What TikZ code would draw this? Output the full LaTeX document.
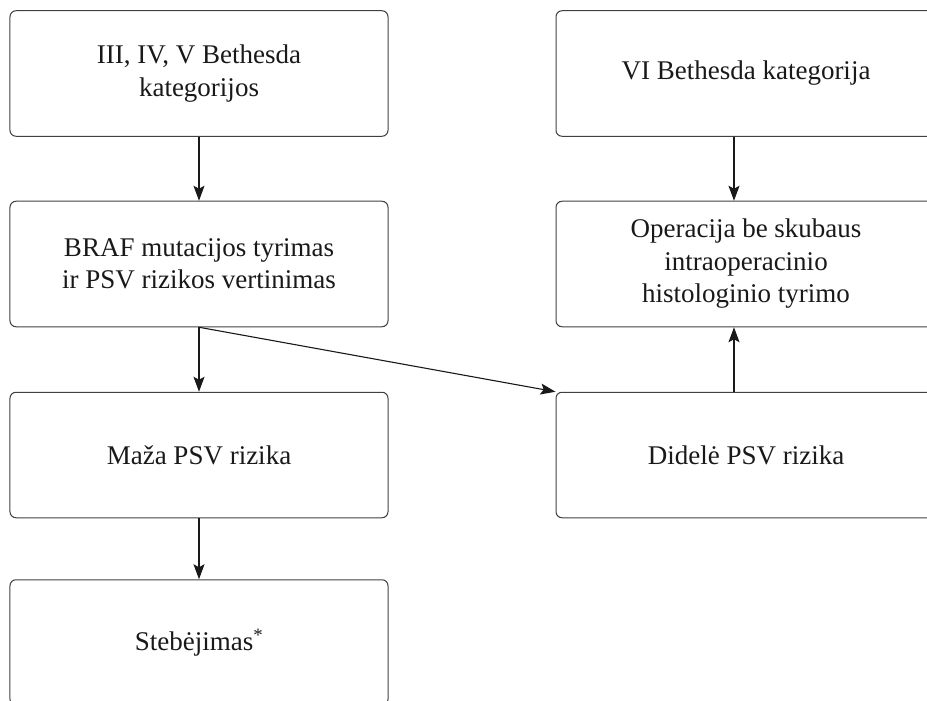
\documentclass[tikz,border=0pt]{standalone}
\usepackage{fontspec}
\setmainfont{Liberation Serif}
\usetikzlibrary{arrows.meta,calc}
\begin{document}
\begin{tikzpicture}[x=1bp,y=-1bp,
  box/.style={draw=black!75, line width=1bp, rounded corners=6bp, align=center,
    inner sep=0pt, minimum width=378bp, minimum height=125.5bp,
    font=\fontsize{27bp}{32.5bp}\selectfont, text=black!90},
  arr/.style={draw=black!90, line width=1.1bp, -{Stealth[length=15bp,width=11bp,inset=3bp]}}]
\useasboundingbox (0,0) rectangle (927,701);
\clip (0,0) rectangle (927,701);
% left column
\node[box] (a) at (199,73.5) {III, IV, V Bethesda\\kategorijos};
\node[box] (b) at (199,264) {BRAF mutacijos tyrimas\\ir PSV rizikos vertinimas};
\node[box] (c) at (199,455) {Maža PSV rizika};
\node[box] (d) at (199,642.5) {Stebėjimas\textsuperscript{*}};
% right column
\node[box, minimum width=380bp] (e) at (746,73.5) {VI Bethesda kategorija};
\node[box, minimum width=380bp] (f) at (746,264) {Operacija be skubaus\\intraoperacinio\\histologinio tyrimo};
\node[box, minimum width=380bp] (g) at (746,455) {Didelė PSV rizika};
% connectors
\draw[arr] (a.south) -- (b.north);
\draw[arr] (b.south) -- (c.north);
\draw[arr] (c.south) -- (d.north);
\draw[arr] (b.south) -- (g.north west);
\draw[arr] ([xshift=-12bp]e.south) -- ([xshift=-12bp]f.north);
\draw[arr] ([xshift=-12bp]g.north) -- ([xshift=-12bp]f.south);
\end{tikzpicture}
\end{document}
